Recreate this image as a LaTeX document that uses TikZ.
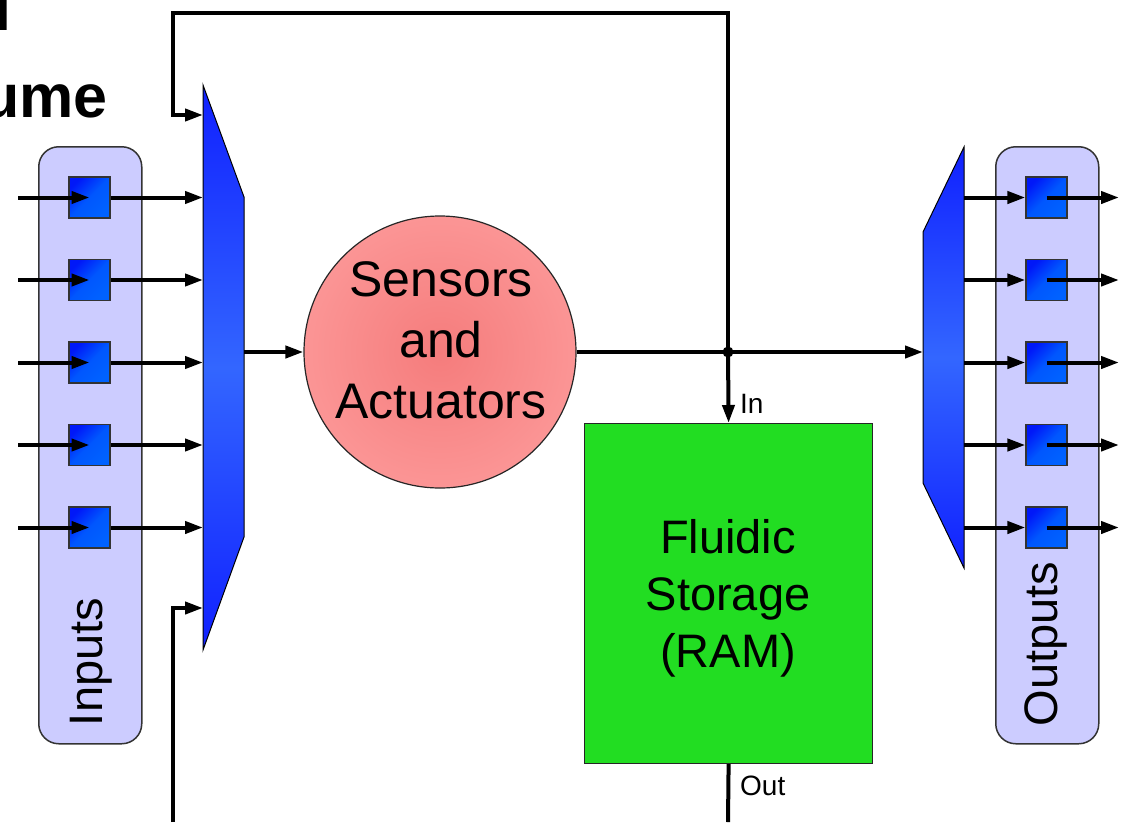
\documentclass[tikz,border=0pt]{standalone}
\usepackage{fontspec}
\setmainfont{Liberation Sans}
\usetikzlibrary{arrows.meta}
\definecolor{lav}{HTML}{CCCCFF}
\definecolor{sqdark}{HTML}{0018F8}
\definecolor{sqlight}{HTML}{0062FF}
\definecolor{muxdark}{HTML}{1020FF}
\definecolor{muxmid}{HTML}{3366FF}
\definecolor{pkin}{HTML}{F57C7C}
\definecolor{pkout}{HTML}{FFA4A4}
\definecolor{grn}{HTML}{22DD22}
\pgfdeclareradialshading{pinkball}{\pgfpoint{0bp}{0bp}}{color(0bp)=(pkin); color(40bp)=(pkout); color(50bp)=(pkout)}
\begin{document}
\begin{tikzpicture}[x=1pt,y=-1pt,
  wire/.style={line width=4pt},
  arr/.style={wire,-{Triangle[length=18pt,width=12pt]}},
  cell/.style={draw=black!80, line width=1.2pt, minimum size=41pt, inner sep=0pt,
    top color=sqdark, bottom color=sqlight, middle color=sqlight!85!sqdark, shading angle=45},
  panel/.style={draw=black!80, line width=1.5pt, fill=lav, rounded corners=20pt,
    minimum width=103pt, minimum height=597pt, anchor=north west, inner sep=0pt},
  muxshape/.style={draw=black, line width=1pt, top color=muxdark, bottom color=muxdark, middle color=muxmid},
  lbl/.style={font=\fontsize{47}{57}\selectfont, inner sep=0pt},
  small/.style={font=\fontsize{28}{30}\selectfont, inner sep=0pt, anchor=base west},
  big/.style={font=\bfseries\fontsize{61}{70}\selectfont, inner sep=0pt},
]
\useasboundingbox (0,0) rectangle (1126,822);

% partial title text
\node[big, anchor=base west] (t1) at (-6,30) {l};
\node[big, anchor=base east] (t2) at (108,117) {ume};

% panels
\node[panel] (inputs) at (38,146) {};
\node[panel] (outputs) at (995,146) {};
\node[lbl, rotate=90, anchor=base] (inlabel) at (102,662) {Inputs};
\node[lbl, rotate=90, anchor=base] (outlabel) at (1057,644) {Outputs};

% mux / demux
\path[muxshape] (203,85) -- (244,197) -- (244,537) -- (203,650) -- cycle;
\path[muxshape] (964,147) -- (964,568) -- (923,483) -- (923,232) -- cycle;
\coordinate (muxout) at (244,352);
\coordinate (demuxin) at (923,352);
\coordinate (mfb1) at (203,115);
\coordinate (mfb2) at (203,608);
\coordinate (fbcorner) at (173,13);
\coordinate (fbbot) at (173,822);

% cells and their wires
\foreach \k/\y in {1/197.5,2/280,3/362.5,4/445,5/527.5}{
  \node[cell] (i\k) at (89.5,\y) {};
  \node[cell] (o\k) at (1046.5,\y) {};
  \coordinate (src\k) at (18,\y);
  \coordinate (muxin\k) at (203,\y);
  \coordinate (dmo\k) at (964,\y);
  \coordinate (sink\k) at (1119,\y);
  \draw[arr] (src\k) -- (i\k.center);
  \draw[arr] (i\k) -- (muxin\k);
  \draw[arr] (dmo\k) -- (o\k);
  \draw[arr] (o\k.center) -- (sink\k);
}

% sensors and actuators
\node[circle, draw=black!85, line width=1.2pt, shading=pinkball, minimum size=272pt, inner sep=0pt] (sa) at (440,352) {};
\node[font=\fontsize{50}{61}\selectfont, align=center, inner sep=0pt] (satext) at (441,340) {Sensors\\and\\Actuators};

% storage
\node[draw=black!85, line width=1.2pt, fill=grn, minimum width=288pt, minimum height=340pt,
      anchor=north west, inner sep=0pt] (ram) at (584,423) {};
\node[lbl, align=center] (ramtext) at (728,598) {Fluidic\\Storage\\(RAM)};

\coordinate (junc) at (728,352);
\coordinate (outend) at (728,822);

\draw[arr] (muxout) -- (sa);
\draw[wire] (sa) -- (junc);
\draw[arr] (junc) -- (demuxin);
\draw[arr] (junc) -- (ram.north);
\draw[wire] (ram.south) -- (outend);
\fill (junc) circle (5.5pt);
\draw[arr] (junc) |- (fbcorner) |- (mfb1);
\draw[arr] (fbbot) |- (mfb2);

\node[small] (inl) at (740,413) {In};
\node[small] (outl) at (740,795) {Out};
\end{tikzpicture}
\end{document}
